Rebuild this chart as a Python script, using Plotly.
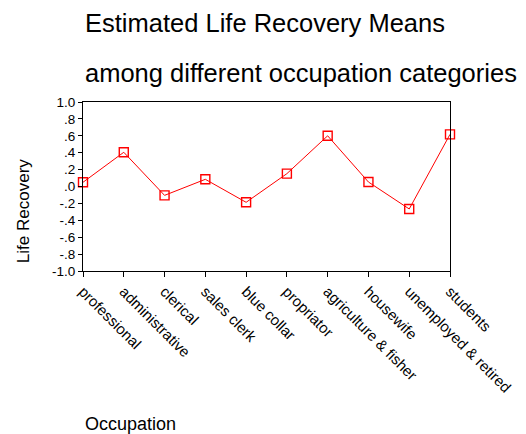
import plotly.graph_objects as go

categories = ["professional", "administrative", "clerical", "sales clerk", "blue collar",
              "propriator", "agriculture & fisher", "housewife", "unemployed & retired", "students"]
means = [0.05, 0.405, -0.105, 0.085, -0.187, 0.152, 0.60, 0.053, -0.266, 0.617]
y_tickvals = [1.0, 0.8, 0.6, 0.4, 0.2, 0.0, -0.2, -0.4, -0.6, -0.8, -1.0]
y_ticktext = ["1.0", ".8", ".6", ".4", ".2", ".0", "-.2", "-.4", "-.6", "-.8", "-1.0"]

FONT = "Liberation Sans, Arial, sans-serif"

# the page body adds an 8px offset; figure sized to the remaining window
OFF = 8
W, H = 526 - OFF, 434 - OFF
L, T = 83 - OFF, 102 - OFF
R, B = W - (457 - OFF), H - (271 - OFF)

fig = go.Figure()
fig.add_trace(go.Scatter(
    x=list(range(len(categories))), y=means, mode="lines+markers",
    line=dict(color="#ff0000", width=1),
    marker=dict(symbol="square-open", size=9, color="#ff0000", line=dict(width=1.4)),
    showlegend=False, cliponaxis=False,
))

fig.update_layout(
    width=W, height=H,
    margin=dict(l=L, r=R, t=T, b=B, pad=0),
    paper_bgcolor="white", plot_bgcolor="white",
    font=dict(family=FONT, color="black", size=13),
    xaxis=dict(
        range=[0, len(categories) - 1],
        tickmode="array", tickvals=list(range(len(categories))), ticktext=categories,
        tickangle=45, ticks="outside", ticklen=5, tickcolor="black",
        showline=True, linecolor="black", linewidth=1, mirror=True,
        showgrid=False, zeroline=False, tickfont=dict(size=15),
    ),
    yaxis=dict(
        range=[-1.0, 1.0],
        tickmode="array", tickvals=y_tickvals, ticktext=y_ticktext,
        ticks="outside", ticklen=4, tickcolor="black",
        showline=True, linecolor="black", linewidth=1, mirror=True,
        showgrid=False, zeroline=False, tickfont=dict(size=13.5),
    ),
)

# annotations given in screen pixels (x_left_or_center, y_center)
notes = [
    ("Estimated Life Recovery Means", 83, 23, 25.5, 0),
    ("among different occupation categories", 83, 73, 25.5, 0),
    ("Life Recovery", 22, 211, 17, -90),
    ("Occupation", 83, 424, 18, 0),
]
pw, ph = W - L - R, H - T - B
for text, sx, sy, size, ang in notes:
    fx, fy = sx - OFF, sy - OFF
    fig.add_annotation(
        text=text, showarrow=False, textangle=ang,
        xref="paper", yref="paper",
        x=(fx - L) / pw, y=(H - B - fy) / ph,
        xanchor="center" if ang else "left", yanchor="middle",
        font=dict(size=size, family=FONT, color="black"),
    )

fig.write_html("out.html")
